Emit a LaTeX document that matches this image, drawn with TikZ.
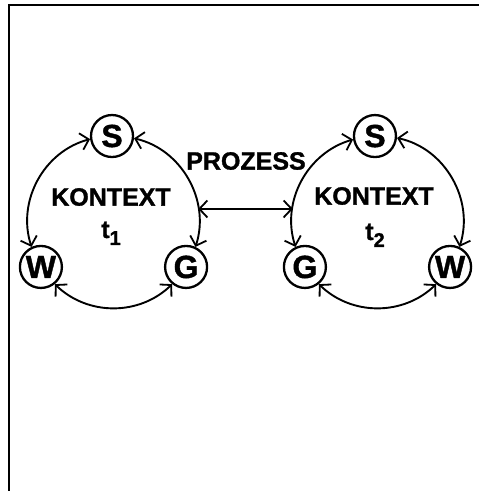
\documentclass[tikz,border=0pt]{standalone}
\usepackage{fontspec}
\setmainfont{Liberation Sans}[BoldFeatures={FakeBold=1.2}]
\usetikzlibrary{arrows.meta}
\begin{document}
\begin{tikzpicture}[x=1pt,y=1pt,
  frame/.style={line width=2.2pt},
  state/.style={circle, draw, line width=2.3pt, minimum size=42pt, inner sep=0pt,
    font=\fontsize{32}{32}\selectfont\bfseries},
  lbl/.style={inner sep=0pt, font=\fontsize{25}{25}\selectfont\bfseries},
  tip/.tip={Straight Barb[length=8pt,width=17pt,line width=1.8pt]},
  arr/.style={tip-tip, line width=1.9pt}]
\useasboundingbox (0,0) rectangle (479,491);

% open frame: left and top edges only
\draw[frame] (9,0) -- (9,486) -- (479,486);

% centres of the two cycles
\coordinate (C1) at (113.5,269.4);
\coordinate (C2) at (377.5,269.4);

% left cycle
\node[state] (S1) at ([shift={(91:85.6)}]C1) {S};
\node[state] (W1) at ([shift={(212:85.6)}]C1) {W};
\node[state] (G1) at ([shift={(328:85.6)}]C1) {G};

% right cycle
\node[state] (S2) at ([shift={(91.7:85.6)}]C2) {S};
\node[state] (G2) at ([shift={(212:85.6)}]C2) {G};
\node[state] (W2) at ([shift={(328:85.6)}]C2) {W};

% arcs of the left cycle
\draw[arr] (S1.188) to[out=195,in=108,looseness=1] (W1.115);
\draw[arr] (W1.309) to[out=316,in=224,looseness=1] (G1.231);
\draw[arr] (G1.65)  to[out=72,in=347,looseness=1] (S1.354);

% arcs of the right cycle
\draw[arr] (S2.189) to[out=196,in=108,looseness=1] (G2.115);
\draw[arr] (G2.309) to[out=316,in=224,looseness=1] (W2.231);
\draw[arr] (W2.65)  to[out=72,in=348,looseness=1] (S2.355);

% process link between the cycles
\coordinate (P1) at ([shift={(8.5:85.6)}]C1);
\coordinate (P2) at ([shift={(171.5:85.6)}]C2);
\draw[arr] (P1) -- (P2);

% labels
\node[lbl] (K1) at (111,294) {KONTEXT};
\node[lbl] (K2) at (374,295) {KONTEXT};
\node[lbl] (PR) at (246,330) {PROZESS};
\node[lbl, anchor=base] (T1) at (111,253) {t\raisebox{-7pt}{\fontsize{20}{20}\selectfont 1}};
\node[lbl, anchor=base] (T2) at (375,251) {t\raisebox{-7pt}{\fontsize{20}{20}\selectfont 2}};
\end{tikzpicture}
\end{document}
